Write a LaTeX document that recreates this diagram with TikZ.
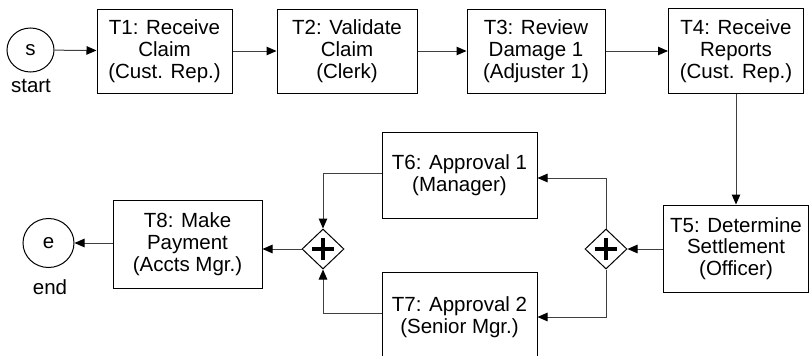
\documentclass[tikz,border=0pt]{standalone}
\usepackage{fontspec}
\setmainfont{Liberation Sans}
\usetikzlibrary{arrows.meta,shapes.geometric}
\tikzset{
  lbl/.style={font=\fontsize{20.5}{21.7}\selectfont, align=center, inner sep=0pt},
  task/.style={lbl, draw=black, line width=1pt},
  event/.style={lbl, draw=black, line width=1pt, ellipse},
  gate/.style={draw=black, line width=1pt, diamond, minimum width=42pt, minimum height=40pt, inner sep=0pt,
    path picture={
      \draw[line width=3.6pt] ([xshift=-11pt]path picture bounding box.center) -- ([xshift=11pt]path picture bounding box.center);
      \draw[line width=3.6pt] ([yshift=-11pt]path picture bounding box.center) -- ([yshift=11pt]path picture bounding box.center);
    }},
  flow/.style={draw=black!75, line width=1pt, -{Triangle[length=10pt,width=8.5pt,color=black]}}
}
\begin{document}
\begin{tikzpicture}[x=1pt, y=-1pt]
\useasboundingbox (0,0) rectangle (809,356);
% events
\node[event, minimum width=47pt, minimum height=44pt] (s) at (30.5,50) {s};
\node[lbl] (slbl) at (31,86) {start};
\node[event, minimum width=51pt, minimum height=49pt] (e) at (48.5,243) {e};
\node[lbl] (elbl) at (50,287) {end};
% tasks
\node[task, minimum width=135pt, minimum height=84pt] (T1) at (164.5,51) {T1: Receive\\Claim\\(Cust. Rep.)};
\node[task, minimum width=140pt, minimum height=84pt] (T2) at (347,51) {T2: Validate\\Claim\\(Clerk)};
\node[task, minimum width=138pt, minimum height=84pt] (T3) at (536,51) {T3: Review\\Damage 1\\(Adjuster 1)};
\node[task, minimum width=135pt, minimum height=85pt] (T4) at (736,51) {T4: Receive\\Reports\\(Cust. Rep.)};
\node[task, minimum width=145pt, minimum height=87pt] (T5) at (736,248.5) {T5: Determine\\Settlement\\(Officer)};
\node[task, minimum width=155pt, minimum height=86pt] (T6) at (459.5,175) {T6: Approval 1\\(Manager)};
\node[task, minimum width=155pt, minimum height=90pt] (T7) at (459.5,317) {T7: Approval 2\\(Senior Mgr.)};
\node[task, minimum width=149pt, minimum height=88pt] (T8) at (187.5,244) {T8: Make\\Payment\\(Accts Mgr.)};
% gateways
\node[gate] (G1) at (606,249) {};
\node[gate] (G2) at (323,249) {};
% flows
\draw[flow] (s) -- (T1);
\draw[flow] (T1) -- (T2);
\draw[flow] (T2) -- (T3);
\draw[flow] (T3) -- (T4);
\draw[flow] (T4) -- (T5);
\draw[flow] (T5.west |- G1) -- (G1);
\draw[flow] (G1.north) |- ([yshift=-3pt]T6.east);
\draw[flow] (G1.south) |- (T7.east);
\draw[flow] ([yshift=2pt]T6.west) -| (G2.north);
\draw[flow] ([yshift=4pt]T7.west) -| (G2.south);
\draw[flow] (G2.west) -- (G2.west -| T8.east);
\draw[flow] (T8.west |- e) -- (e);
\end{tikzpicture}
\end{document}
